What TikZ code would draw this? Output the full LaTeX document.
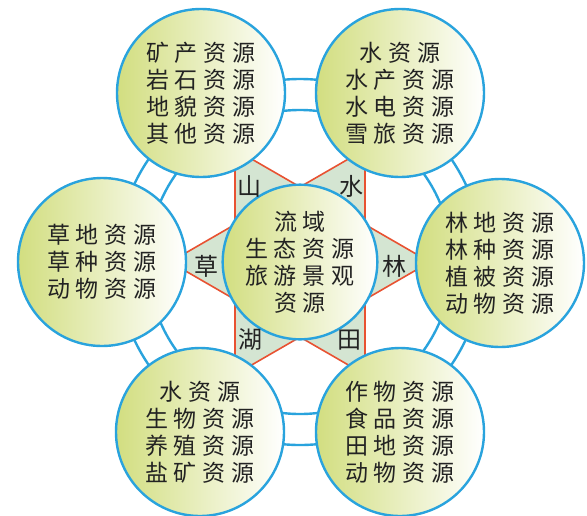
\documentclass[tikz,border=0pt]{standalone}
\usepackage{fontspec}
\newfontfamily\cjk{Noto Sans CJK SC}
\definecolor{ringblue}{RGB}{41,163,221}
\definecolor{leafgreen}{RGB}{210,222,128}
\definecolor{starfill}{RGB}{212,229,210}
\definecolor{starred}{RGB}{232,82,50}
\definecolor{inkgray}{RGB}{35,35,35}
\def\rowloop#1{\ifx#1\relax\else\makebox[29pt]{#1}\expandafter\rowloop\fi}
\newcommand\crow[1]{\rowloop#1\relax}
\tikzset{
  ringline/.style={draw=ringblue, line width=2.4pt},
  outerc/.style={circle, draw=ringblue, line width=2.4pt, left color=leafgreen, right color=white,
     minimum size=168pt, inner sep=0pt, font=\cjk\fontsize{23}{27}\selectfont, text=inkgray, align=center},
  centerc/.style={outerc, minimum size=142pt},
  starline/.style={draw=starred, fill=starfill, line width=1.6pt, line join=miter},
  starlabel/.style={font=\cjk\fontsize{24}{26}\selectfont, text=inkgray, inner sep=0pt}
}
\begin{document}
\begin{tikzpicture}[x=1pt,y=-1pt]
\useasboundingbox[fill=white] (0,0) rectangle (587,515);
\coordinate (c) at (300,262);
% ring
\draw[ringline] (c) circle (183pt);
\draw[ringline] (c) circle (152pt);
% star
\path[starline] ([shift={(0:130pt)}]c) -- ([shift={(120:130pt)}]c) -- ([shift={(240:130pt)}]c) -- cycle;
\path[starline] ([shift={(60:130pt)}]c) -- ([shift={(180:130pt)}]c) -- ([shift={(300:130pt)}]c) -- cycle;
% outer circles
\node[outerc] (tl) at (201,93) {\crow{矿产资源}\\\crow{岩石资源}\\\crow{地貌资源}\\\crow{其他资源}};
\node[outerc] (tr) at (400,93) {\crow{水资源}\\\crow{水产资源}\\\crow{水电资源}\\\crow{雪旅资源}};
\node[outerc] (l) at (102,262) {\crow{草地资源}\\\crow{草种资源}\\\crow{动物资源}};
\node[outerc] (r) at (500,263) {\crow{林地资源}\\\crow{林种资源}\\\crow{植被资源}\\\crow{动物资源}};
\node[outerc] (bl) at (200,432) {\crow{水资源}\\\crow{生物资源}\\\crow{养殖资源}\\\crow{盐矿资源}};
\node[outerc] (br) at (400,432) {\crow{作物资源}\\\crow{食品资源}\\\crow{田地资源}\\\crow{动物资源}};
% center circle
\node[centerc] (mid) at (c) {\crow{流域}\\\crow{生态资源}\\\crow{旅游景观}\\\crow{资源}};
% star labels
\node[starlabel] (shan) at (249,186) {山};
\node[starlabel] (shui) at (351,186) {水};
\node[starlabel] (lin) at (394,266) {林};
\node[starlabel] (cao) at (206,266) {草};
\node[starlabel] (hu) at (250,340) {湖};
\node[starlabel] (tian) at (349,340) {田};
\end{tikzpicture}
\end{document}
